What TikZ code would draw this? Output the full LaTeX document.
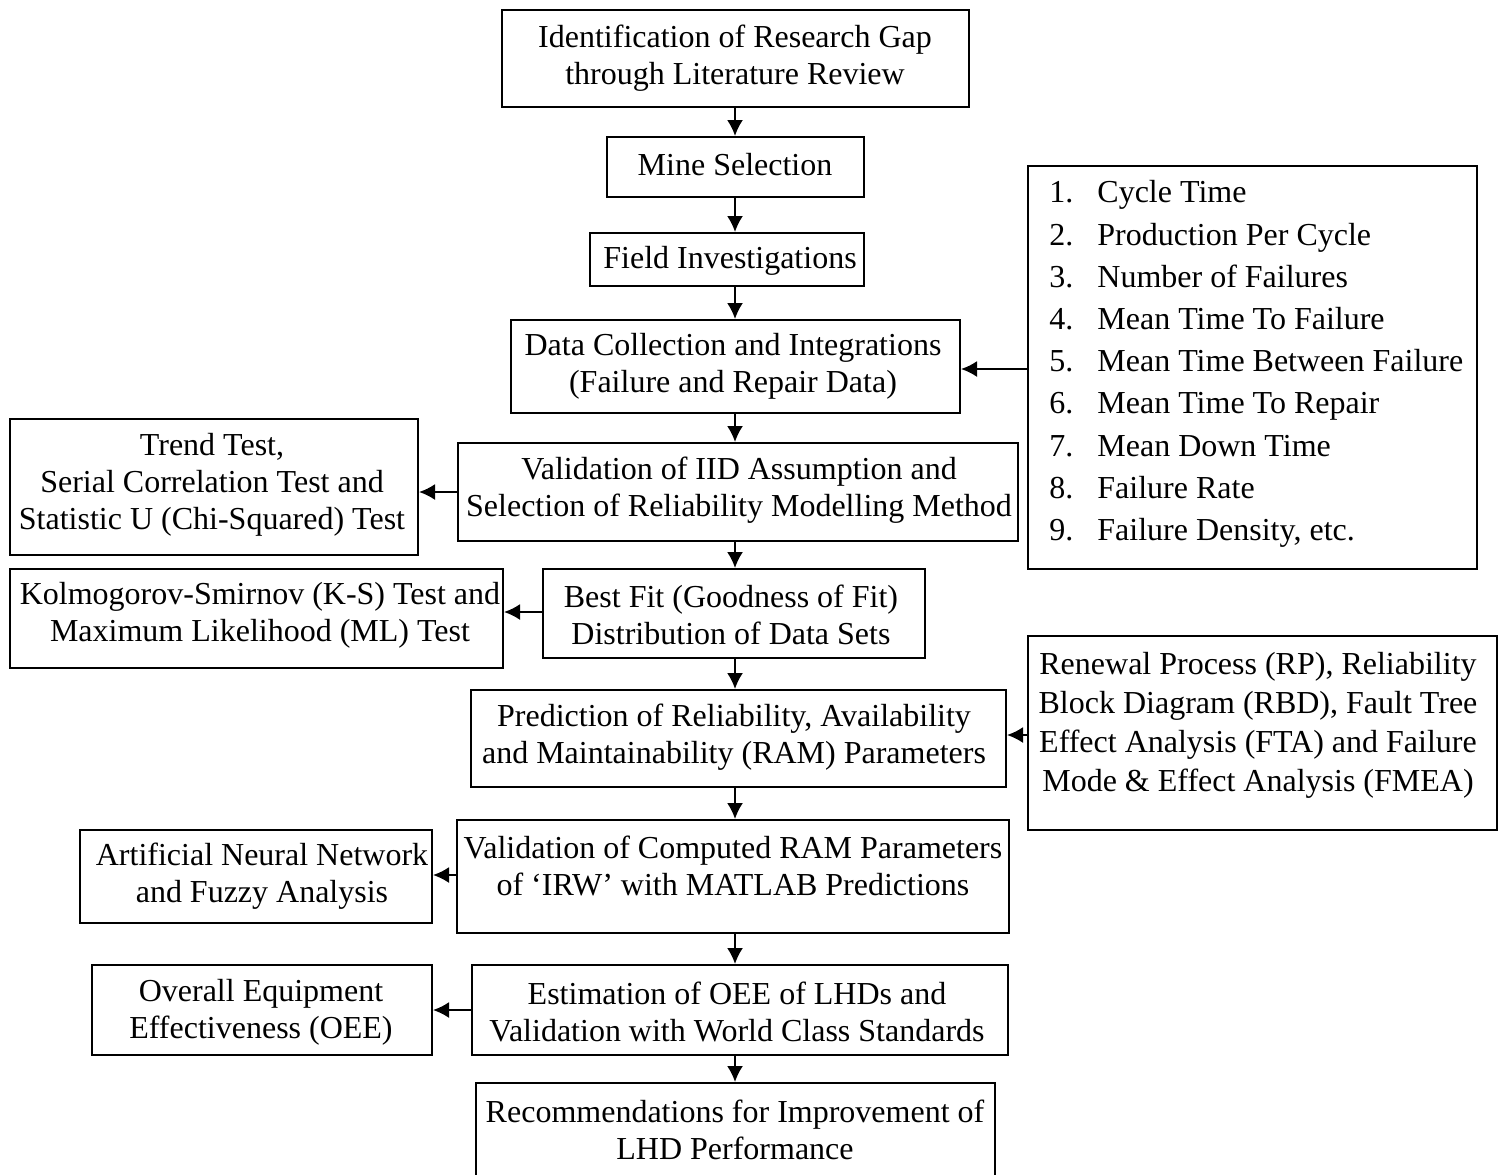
\documentclass[tikz,border=0pt]{standalone}
\usepackage{fontspec}
\setmainfont{Liberation Serif}
\usetikzlibrary{arrows.meta}
% place an empty framed box by its corners (x1,y1) (x2,y2)
\newcommand\boxat[5]{%
  \node[box, minimum width={(#4-#2)*0.5pt}, minimum height={(#5-#3)*0.5pt}]
    (#1) at ({(#2+#4)/2},{(#3+#5)/2}) {};}
\newcommand\itemno[1]{\makebox[24pt][l]{#1}}
\begin{document}
\begin{tikzpicture}[x=0.5pt,y=-0.5pt,
  box/.style={draw, line width=1pt, rectangle, inner sep=0pt},
  txt/.style={align=center, inner sep=0pt, font=\fontsize{16}{18.5}\selectfont},
  arr/.style={line width=1pt, -{Latex[length=8pt,width=8pt]}}]
\useasboundingbox (0,0) rectangle (1507,1174);

% main column
\boxat{gap}{502}{10}{969}{107}
\node[txt] at (735,58) {Identification of Research Gap\\through Literature Review};
\boxat{mine}{607}{137}{864}{197}
\node[txt] at (735,165) {Mine Selection};
\boxat{field}{590}{233}{864}{286}
\node[txt] at (730,261) {Field Investigations};
\boxat{data}{511}{320}{960}{413}
\node[txt] at (733,366) {Data Collection and Integrations\\(Failure and Repair Data)};
\boxat{iid}{458}{443}{1018}{541}
\node[txt] at (739,490) {Validation of IID Assumption and\\Selection of Reliability Modelling Method};
\boxat{fit}{543}{569}{925}{658}
\node[txt] at (731,615) {Best Fit (Goodness of Fit)\\Distribution of Data Sets};
\boxat{ram}{471}{690}{1006}{787}
\node[txt] at (734,737) {Prediction of Reliability, Availability\\and Maintainability (RAM) Parameters};
\boxat{valram}{457}{820}{1009}{933}
\node[txt] at (733,866) {Validation of Computed RAM Parameters\\of `IRW' with MATLAB Predictions};
\boxat{oeeest}{472}{965}{1008}{1055}
\node[txt] at (737,1012) {Estimation of OEE of LHDs and\\Validation with World Class Standards};
\boxat{rec}{476}{1083}{995}{1190}
\node[txt] at (735,1130) {Recommendations for Improvement of\\LHD Performance};

% side boxes
\boxat{list}{1028}{166}{1477}{569}
\node[anchor=west, align=left, inner sep=0pt, font=\fontsize{16}{21.1}\selectfont] at (1049,364)
  {\itemno{1.}Cycle Time\\\itemno{2.}Production Per Cycle\\\itemno{3.}Number of Failures\\
   \itemno{4.}Mean Time To Failure\\\itemno{5.}Mean Time Between Failure\\
   \itemno{6.}Mean Time To Repair\\\itemno{7.}Mean Down Time\\
   \itemno{8.}Failure Rate\\\itemno{9.}Failure Density, etc.};
\boxat{trend}{10}{419}{418}{555}
\node[txt] at (212,485) {Trend Test,\\Serial Correlation Test and\\Statistic U (Chi-Squared) Test};
\boxat{ks}{10}{569}{503}{668}
\node[txt] at (260,615) {Kolmogorov-Smirnov (K-S) Test and\\Maximum Likelihood (ML) Test};
\boxat{renewal}{1028}{636}{1497}{830}
\node[txt, font=\fontsize{16}{19.5}\selectfont] at (1258,725) {Renewal Process (RP), Reliability\\Block Diagram (RBD), Fault Tree\\Effect Analysis (FTA) and Failure\\Mode \& Effect Analysis (FMEA)};
\boxat{ann}{80}{830}{432}{923}
\node[txt] at (262,876) {Artificial Neural Network\\and Fuzzy Analysis};
\boxat{oee}{92}{965}{432}{1055}
\node[txt] at (261,1012) {Overall Equipment\\Effectiveness (OEE)};

% connectors
\coordinate (spine) at (735,0);
\foreach \a/\b in {gap/mine, mine/field, field/data, data/iid, iid/fit,
                   fit/ram, ram/valram, valram/oeeest, oeeest/rec}
  \draw[arr] (\a.south -| spine) -- (\b.north -| spine);
\draw[arr] (list.west |- 0,369) -- (data.east |- 0,369);
\draw[arr] (iid.west |- 0,492) -- (trend.east |- 0,492);
\draw[arr] (fit.west |- 0,612) -- (ks.east |- 0,612);
\draw[arr] (renewal.west |- 0,735) -- (ram.east |- 0,735);
\draw[arr] (valram.west |- 0,875) -- (ann.east |- 0,875);
\draw[arr] (oeeest.west |- 0,1010) -- (oee.east |- 0,1010);
\end{tikzpicture}
\end{document}
